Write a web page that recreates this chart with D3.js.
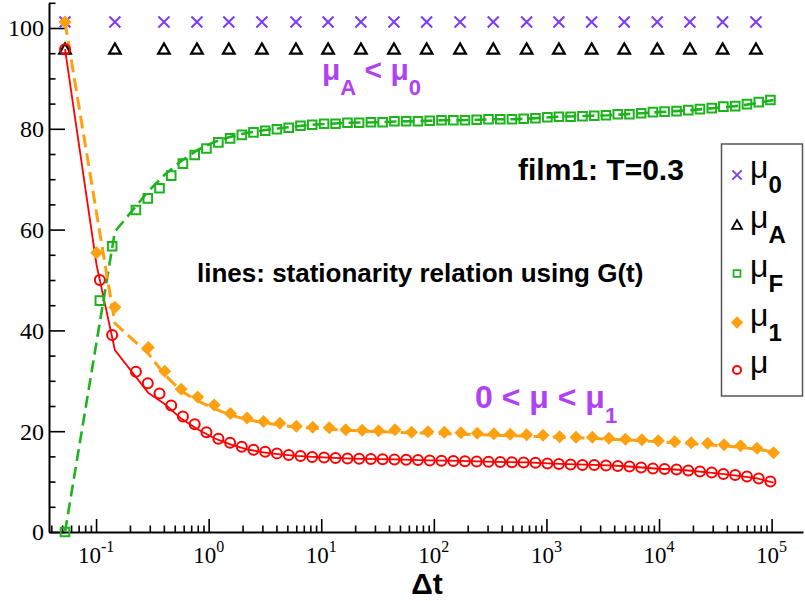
<!DOCTYPE html>
<html>
<head>
<meta charset="utf-8">
<script src="https://cdn.jsdelivr.net/npm/d3@7"></script>
<style>
  html, body { margin: 0; padding: 0; background: #fff; }
  svg { display: block; }
</style>
</head>
<body>
<div id="chart"></div>
<script>
// ---------------- data ----------------
// times of the mu0 / muA symbols
const tX = [0.053, 0.147, 0.401, 0.787, 1.51, 2.97, 5.96, 11.5, 22.5, 44.2, 86.3, 171, 337, 667, 1290, 2520, 4910, 9640, 18800, 36700, 72600];
const mu0 = [101.2, 101.2, 101.2, 101.2, 101.2, 101.2, 101.2, 101.2, 101.2, 101.2, 101.2, 101.2, 101.2, 101.2, 101.2, 101.2, 101.2, 101.2, 101.2, 101.2, 101.2];
const muA = [95.8, 95.8, 95.8, 95.8, 95.8, 95.8, 95.8, 95.8, 95.8, 95.8, 95.8, 95.8, 95.8, 95.8, 95.8, 95.8, 95.8, 95.8, 95.8, 95.8, 95.8];

// times of the muF / mu symbols
const tF = [0.053, 0.108, 0.139, 0.226, 0.288, 0.366, 0.465, 0.591, 0.752, 0.956, 1.22, 1.55, 1.97, 2.50, 3.18, 4.04, 5.14, 6.54, 8.31, 10.6, 13.4, 17.1, 21.7, 27.6, 35.1, 44.7, 56.8, 72.3, 91.9, 117, 149, 189, 240, 306, 389, 494, 628, 799, 1020, 1290, 1640, 2090, 2660, 3380, 4300, 5460, 6940, 8830, 11200, 14300, 18200, 23100, 29400, 37300, 47500, 60400, 76800, 97600];
const muF = [0, 45.9, 56.7, 63.9, 66.2, 68.2, 70.7, 73.1, 74.8, 76.1, 77.3, 78.1, 78.8, 79.3, 79.6, 79.9, 80.2, 80.6, 80.8, 81.0, 81.0, 81.2, 81.2, 81.3, 81.3, 81.5, 81.5, 81.5, 81.6, 81.7, 81.7, 81.7, 81.8, 81.9, 81.9, 81.9, 82.0, 82.1, 82.3, 82.4, 82.4, 82.5, 82.6, 82.7, 82.9, 82.9, 83.1, 83.3, 83.4, 83.5, 83.7, 83.9, 84.1, 84.4, 84.5, 84.9, 85.3, 85.7];
const mu = [95.8, 50.0, 39.1, 31.8, 29.5, 27.5, 25.1, 22.9, 21.4, 19.8, 18.5, 17.7, 16.9, 16.3, 15.9, 15.6, 15.3, 15.1, 14.9, 14.8, 14.7, 14.6, 14.55, 14.5, 14.45, 14.4, 14.35, 14.3, 14.2, 14.15, 14.1, 14.05, 14.0, 13.95, 13.9, 13.85, 13.8, 13.75, 13.6, 13.5, 13.4, 13.3, 13.3, 13.2, 13.1, 13.0, 12.8, 12.6, 12.5, 12.4, 12.2, 12.0, 11.8, 11.5, 11.3, 11.0, 10.6, 10.0];

// times of the mu1 symbols and of the stationarity-relation lines
const tD = [0.053, 0.101, 0.147, 0.291, 0.407, 0.570, 0.798, 1.12, 1.56, 2.19, 3.07, 4.29, 6.01, 8.41, 11.8, 16.5, 23.1, 32.3, 45.2, 63.3, 88.6, 124, 174, 243, 341, 477, 667, 934, 1310, 1830, 2560, 3590, 5030, 7040, 9850, 13800, 19300, 27000, 37800, 53000, 74200, 104000];
const mu1 = [101.2, 55.4, 44.6, 36.6, 31.9, 28.3, 26.8, 25.2, 23.5, 22.6, 21.9, 21.6, 21.0, 20.8, 20.7, 20.3, 20.2, 20.1, 20.3, 19.8, 19.9, 19.8, 19.7, 19.6, 19.5, 19.4, 19.3, 19.2, 18.9, 18.8, 18.8, 18.6, 18.4, 18.3, 18.1, 17.9, 17.7, 17.6, 17.3, 17.1, 16.6, 15.7];
const muLine  = [95.8, 53.0, 36.1, 27.6, 25.4, 22.5, 20.4, 18.6, 17.4, 16.4, 15.8, 15.4, 15.1, 14.9, 14.75, 14.6, 14.5, 14.45, 14.4, 14.3, 14.2, 14.15, 14.1, 14.0, 13.9, 13.85, 13.8, 13.65, 13.5, 13.4, 13.3, 13.2, 13.05, 12.8, 12.55, 12.4, 12.15, 11.85, 11.5, 11.1, 10.65, 9.8];
const mu1Line = [101.2, 63.3, 41.4, 35.4, 31.2, 28.0, 26.0, 24.5, 23.2, 22.3, 21.7, 21.2, 20.8, 20.6, 20.4, 20.2, 20.0, 19.9, 19.8, 19.7, 19.6, 19.5, 19.4, 19.3, 19.2, 19.1, 19.0, 18.9, 18.8, 18.7, 18.6, 18.4, 18.3, 18.1, 17.9, 17.7, 17.5, 17.3, 17.1, 16.8, 16.4, 15.9];
const muFLine = [0, 37.7, 59.6, 67.6, 70.9, 73.6, 75.8, 77.4, 78.4, 79.2, 79.7, 80.1, 80.5, 80.8, 81.0, 81.2, 81.25, 81.3, 81.45, 81.5, 81.6, 81.7, 81.7, 81.8, 81.9, 81.9, 82.0, 82.2, 82.4, 82.5, 82.6, 82.7, 82.9, 83.1, 83.3, 83.5, 83.7, 84.0, 84.3, 84.6, 85.1, 85.7];

// axis ticks
const yMajor = [0, 20, 40, 60, 80, 100];
const yMinor = [5, 10, 15, 25, 30, 35, 45, 50, 55, 65, 70, 75, 85, 90, 95, 105];
const xMajorExp = [-1, 0, 1, 2, 3, 4, 5];

// legend entries
const legendSubs = ["0", "A", "F", "1", ""];

// ---------------- drawing ----------------
const W = 805, H = 601;
const purple = "#7a3cf4", textPurple = "#b042f2", green = "#1db31d", orange = "#ffa010", red = "#ff0000";
const serif = "'Liberation Serif', 'Times New Roman', serif";
const sans = "'Liberation Sans', Arial, sans-serif";

const svg = d3.select("#chart").append("svg").attr("width", W).attr("height", H);

const x = d3.scaleLog().domain([0.0382, 1.9e5]).range([49, 803]);
const y = d3.scaleLinear().domain([0, 105]).range([532, 2.8]);

// x minor ticks
const xMinor = [];
for (let e = -2; e <= 5; e++) for (let m = 2; m <= 9; m++) {
  const v = m * Math.pow(10, e);
  if (v >= 0.0382 && v <= 1.9e5) xMinor.push(v);
}
const xMajor = xMajorExp.map(e => Math.pow(10, e));

// axes
const gx = svg.append("g").attr("transform", "translate(0,532)");
gx.call(d3.axisBottom(x).tickValues(xMajor).tickSize(-13).tickSizeOuter(0).tickFormat(""));
gx.append("g").call(d3.axisBottom(x).tickValues(xMinor).tickSize(-6.5).tickSizeOuter(0).tickFormat(""))
  .select(".domain").remove();
gx.selectAll("line").attr("stroke", "#000").attr("stroke-width", 1.6);
gx.select(".domain").attr("stroke", "#000").attr("stroke-width", 2);

const gy = svg.append("g").attr("transform", "translate(49,0)");
gy.call(d3.axisLeft(y).tickValues(yMajor).tickSize(-16).tickSizeOuter(0).tickPadding(6));
gy.append("g").call(d3.axisLeft(y).tickValues(yMinor).tickSize(-6.5).tickSizeOuter(0).tickFormat(""))
  .select(".domain").remove();
gy.selectAll("line").attr("stroke", "#000").attr("stroke-width", 1.6);
gy.select(".domain").attr("stroke", "#000").attr("stroke-width", 2);
gy.selectAll("text").attr("font-family", serif)
  .attr("font-size", 24).attr("fill", "#000").attr("dy", "0.33em").attr("x", -5);

// x tick labels 10^n
xMajorExp.forEach(e => {
  const t = svg.append("text")
    .attr("x", x(Math.pow(10, e))).attr("y", 563)
    .attr("text-anchor", "middle")
    .attr("font-family", serif)
    .attr("font-size", 23).attr("fill", "#000");
  t.append("tspan").text("10");
  t.append("tspan").attr("font-size", 16).attr("dy", -11).text(e < 0 ? "-" + (-e) : String(e));
});

// axis title
svg.append("text").attr("x", 427).attr("y", 594).attr("text-anchor", "middle")
  .attr("font-family", sans).attr("font-weight", "bold")
  .attr("font-size", 30).text("\u0394t");

// lines
const mk = (ts, vs) => ts.map((t, i) => ({t, v: vs[i]}));
const line = d3.line().x(d => x(d.t)).y(d => y(d.v));
svg.append("path").datum(mk(tD, muFLine)).attr("d", line)
  .attr("fill", "none").attr("stroke", green).attr("stroke-width", 2.6).attr("stroke-dasharray", "12,6");
svg.append("path").datum(mk(tD, mu1Line)).attr("d", line)
  .attr("fill", "none").attr("stroke", orange).attr("stroke-width", 3).attr("stroke-dasharray", "13,6");
svg.append("path").datum(mk(tD, muLine)).attr("d", line)
  .attr("fill", "none").attr("stroke", red).attr("stroke-width", 1.8);

// symbol shapes
const shapes = {
  x: "M-5.5,-5.5L5.5,5.5M-5.5,5.5L5.5,-5.5",
  tri: "M0,-5.8L5.8,4.5L-5.8,4.5Z",
  sq: "M-4.3,-4.3H4.3V4.3H-4.3Z",
  dia: "M0,-6.5L6.5,0L0,6.5L-6.5,0Z"
};
function drawSymbols(ts, vs, kind, color) {
  const g = svg.append("g");
  const data = mk(ts, vs);
  if (kind === "circle") {
    g.selectAll("circle").data(data).join("circle")
      .attr("cx", d => x(d.t)).attr("cy", d => y(d.v)).attr("r", 5)
      .attr("fill", "none").attr("stroke", color).attr("stroke-width", 2);
  } else {
    g.selectAll("path").data(data).join("path")
      .attr("transform", d => `translate(${x(d.t)},${y(d.v)})`)
      .attr("d", shapes[kind])
      .attr("fill", kind === "dia" ? color : "none")
      .attr("stroke", kind === "dia" ? "none" : color)
      .attr("stroke-width", kind === "tri" ? 2.2 : 2);
  }
}
drawSymbols(tX, mu0, "x", purple);
drawSymbols(tX, muA, "tri", "#000");
drawSymbols(tF, muF, "sq", green);
drawSymbols(tD, mu1, "dia", orange);
drawSymbols(tF, mu, "circle", red);

// annotations
const a1 = svg.append("text").attr("x", 322).attr("y", 80).attr("font-family", sans)
  .attr("font-weight", "bold").attr("font-size", 30).attr("fill", textPurple);
a1.append("tspan").text("\u03bc");
a1.append("tspan").attr("font-size", 22).attr("dy", 15).text("A");
a1.append("tspan").attr("dy", -15).text(" < \u03bc");
a1.append("tspan").attr("font-size", 22).attr("dy", 15).text("0");

const a2 = svg.append("text").attr("x", 475).attr("y", 408).attr("font-family", sans)
  .attr("font-weight", "bold").attr("font-size", 32).attr("fill", textPurple);
a2.append("tspan").text("0 < \u03bc < \u03bc");
a2.append("tspan").attr("font-size", 22).attr("dy", 15).text("1");

svg.append("text").attr("x", 518).attr("y", 180).attr("font-family", sans)
  .attr("font-weight", "bold").attr("font-size", 30).attr("fill", "#000").text("film1: T=0.3");

svg.append("text").attr("x", 197).attr("y", 282).attr("font-family", sans)
  .attr("font-weight", "bold").attr("font-size", 26).attr("fill", "#000")
  .text("lines: stationarity relation using G(t)");

// legend
const lg = svg.append("g");
lg.append("rect").attr("x", 721.5).attr("y", 144).attr("width", 81).attr("height", 252)
  .attr("fill", "#fff").attr("stroke", "#555").attr("stroke-width", 1.5);
const rowsY = [175, 225, 273.5, 322.5, 370];
const legKinds = [["x", purple], ["tri", "#000"], ["sq", green], ["dia", orange], ["circle", red]];
legKinds.forEach(([kind, color], i) => {
  const cy = rowsY[i];
  if (kind === "circle") {
    lg.append("circle").attr("cx", 737).attr("cy", cy).attr("r", 4)
      .attr("fill", "none").attr("stroke", color).attr("stroke-width", 2);
  } else {
    const s = kind === "sq" ? 0.8 : (kind === "dia" ? 0.95 : 0.85);
    lg.append("path").attr("transform", `translate(737,${cy}) scale(${s})`).attr("d", shapes[kind])
      .attr("fill", kind === "dia" ? color : "none")
      .attr("stroke", kind === "dia" ? "none" : color)
      .attr("stroke-width", 2.2);
  }
  const t = lg.append("text").attr("x", 750).attr("y", cy + 3).attr("font-family", sans)
    .attr("font-size", 32).attr("fill", "#000");
  t.append("tspan").text("\u03bc");
  if (legendSubs[i]) t.append("tspan").attr("font-size", 24).attr("font-weight", "bold")
    .attr("dy", 15).text(legendSubs[i]);
});
</script>
</body>
</html>
